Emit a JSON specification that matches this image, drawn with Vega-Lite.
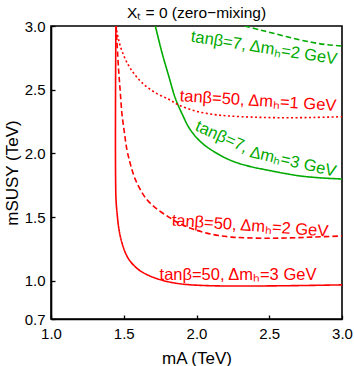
{
  "$schema": "https://vega.github.io/schema/vega-lite/v6.json",
  "width": 291,
  "height": 293,
  "autosize": {"type": "none"},
  "padding": {"left": 51, "top": 26, "right": 12, "bottom": 47},
  "background": "white",
  "config": {
    "font": "Liberation Sans",
    "view": {"stroke": "black", "strokeWidth": 1.6},
    "axis": {
      "domainColor": "black", "domainWidth": 1.6,
      "tickColor": "black", "tickWidth": 1.3, "tickSize": -4,
      "labelColor": "black", "labelFontSize": 15, "labelFont": "Liberation Sans",
      "titleColor": "black", "titleFontSize": 17, "titleFontWeight": "normal", "titleFont": "Liberation Sans",
      "grid": false, "labelFlush": false, "labelOverlap": false
    }
  },
  "title": {
    "text": "Xₜ = 0 (zero−mixing)",
    "fontSize": 15.5, "fontWeight": "normal", "font": "Liberation Sans", "color": "black",
    "anchor": "middle", "frame": "group", "offset": -2
  },
  "datasets": {
    "curves": [
      {"s": "g2", "tb": "7", "dm": "2", "x": 2.33, "y": 3.0},
      {"s": "g2", "tb": "7", "dm": "2", "x": 2.436, "y": 2.969},
      {"s": "g2", "tb": "7", "dm": "2", "x": 2.528, "y": 2.943},
      {"s": "g2", "tb": "7", "dm": "2", "x": 2.665, "y": 2.903},
      {"s": "g2", "tb": "7", "dm": "2", "x": 2.8, "y": 2.87},
      {"s": "g2", "tb": "7", "dm": "2", "x": 2.9, "y": 2.853},
      {"s": "g2", "tb": "7", "dm": "2", "x": 3.0, "y": 2.843},

      {"s": "g3", "tb": "7", "dm": "3", "x": 1.717, "y": 3.0},
      {"s": "g3", "tb": "7", "dm": "3", "x": 1.763, "y": 2.79},
      {"s": "g3", "tb": "7", "dm": "3", "x": 1.809, "y": 2.608},
      {"s": "g3", "tb": "7", "dm": "3", "x": 1.854, "y": 2.435},
      {"s": "g3", "tb": "7", "dm": "3", "x": 1.905, "y": 2.3},
      {"s": "g3", "tb": "7", "dm": "3", "x": 1.955, "y": 2.19},
      {"s": "g3", "tb": "7", "dm": "3", "x": 2.034, "y": 2.085},
      {"s": "g3", "tb": "7", "dm": "3", "x": 2.148, "y": 1.995},
      {"s": "g3", "tb": "7", "dm": "3", "x": 2.253, "y": 1.937},
      {"s": "g3", "tb": "7", "dm": "3", "x": 2.365, "y": 1.898},
      {"s": "g3", "tb": "7", "dm": "3", "x": 2.482, "y": 1.87},
      {"s": "g3", "tb": "7", "dm": "3", "x": 2.6, "y": 1.844},
      {"s": "g3", "tb": "7", "dm": "3", "x": 2.711, "y": 1.823},
      {"s": "g3", "tb": "7", "dm": "3", "x": 2.85, "y": 1.808},
      {"s": "g3", "tb": "7", "dm": "3", "x": 3.0, "y": 1.799},

      {"s": "r1", "tb": "50", "dm": "1", "x": 1.448, "y": 3.0},
      {"s": "r1", "tb": "50", "dm": "1", "x": 1.452, "y": 2.961},
      {"s": "r1", "tb": "50", "dm": "1", "x": 1.463, "y": 2.9},
      {"s": "r1", "tb": "50", "dm": "1", "x": 1.476, "y": 2.843},
      {"s": "r1", "tb": "50", "dm": "1", "x": 1.511, "y": 2.739},
      {"s": "r1", "tb": "50", "dm": "1", "x": 1.557, "y": 2.647},
      {"s": "r1", "tb": "50", "dm": "1", "x": 1.625, "y": 2.555},
      {"s": "r1", "tb": "50", "dm": "1", "x": 1.717, "y": 2.476},
      {"s": "r1", "tb": "50", "dm": "1", "x": 1.809, "y": 2.425},
      {"s": "r1", "tb": "50", "dm": "1", "x": 1.878, "y": 2.38},
      {"s": "r1", "tb": "50", "dm": "1", "x": 1.992, "y": 2.333},
      {"s": "r1", "tb": "50", "dm": "1", "x": 2.107, "y": 2.307},
      {"s": "r1", "tb": "50", "dm": "1", "x": 2.221, "y": 2.294},
      {"s": "r1", "tb": "50", "dm": "1", "x": 2.4, "y": 2.284},
      {"s": "r1", "tb": "50", "dm": "1", "x": 2.6, "y": 2.28},
      {"s": "r1", "tb": "50", "dm": "1", "x": 2.8, "y": 2.282},
      {"s": "r1", "tb": "50", "dm": "1", "x": 3.0, "y": 2.288},

      {"s": "r2", "tb": "50", "dm": "2", "x": 1.447, "y": 3.0},
      {"s": "r2", "tb": "50", "dm": "2", "x": 1.452, "y": 2.9},
      {"s": "r2", "tb": "50", "dm": "2", "x": 1.457, "y": 2.8},
      {"s": "r2", "tb": "50", "dm": "2", "x": 1.465, "y": 2.65},
      {"s": "r2", "tb": "50", "dm": "2", "x": 1.475, "y": 2.5},
      {"s": "r2", "tb": "50", "dm": "2", "x": 1.488, "y": 2.307},
      {"s": "r2", "tb": "50", "dm": "2", "x": 1.505, "y": 2.16},
      {"s": "r2", "tb": "50", "dm": "2", "x": 1.522, "y": 2.027},
      {"s": "r2", "tb": "50", "dm": "2", "x": 1.54, "y": 1.94},
      {"s": "r2", "tb": "50", "dm": "2", "x": 1.557, "y": 1.87},
      {"s": "r2", "tb": "50", "dm": "2", "x": 1.578, "y": 1.8},
      {"s": "r2", "tb": "50", "dm": "2", "x": 1.603, "y": 1.739},
      {"s": "r2", "tb": "50", "dm": "2", "x": 1.63, "y": 1.684},
      {"s": "r2", "tb": "50", "dm": "2", "x": 1.66, "y": 1.636},
      {"s": "r2", "tb": "50", "dm": "2", "x": 1.7, "y": 1.59},
      {"s": "r2", "tb": "50", "dm": "2", "x": 1.74, "y": 1.553},
      {"s": "r2", "tb": "50", "dm": "2", "x": 1.8, "y": 1.507},
      {"s": "r2", "tb": "50", "dm": "2", "x": 1.854, "y": 1.467},
      {"s": "r2", "tb": "50", "dm": "2", "x": 1.92, "y": 1.43},
      {"s": "r2", "tb": "50", "dm": "2", "x": 1.992, "y": 1.4},
      {"s": "r2", "tb": "50", "dm": "2", "x": 2.07, "y": 1.374},
      {"s": "r2", "tb": "50", "dm": "2", "x": 2.153, "y": 1.355},
      {"s": "r2", "tb": "50", "dm": "2", "x": 2.244, "y": 1.343},
      {"s": "r2", "tb": "50", "dm": "2", "x": 2.35, "y": 1.337},
      {"s": "r2", "tb": "50", "dm": "2", "x": 2.5, "y": 1.334},
      {"s": "r2", "tb": "50", "dm": "2", "x": 2.65, "y": 1.337},
      {"s": "r2", "tb": "50", "dm": "2", "x": 2.8, "y": 1.343},
      {"s": "r2", "tb": "50", "dm": "2", "x": 3.0, "y": 1.352},

      {"s": "r3", "tb": "50", "dm": "3", "x": 1.446, "y": 3.0},
      {"s": "r3", "tb": "50", "dm": "3", "x": 1.444, "y": 2.6},
      {"s": "r3", "tb": "50", "dm": "3", "x": 1.443, "y": 2.2},
      {"s": "r3", "tb": "50", "dm": "3", "x": 1.443, "y": 2.0},
      {"s": "r3", "tb": "50", "dm": "3", "x": 1.444, "y": 1.8},
      {"s": "r3", "tb": "50", "dm": "3", "x": 1.447, "y": 1.634},
      {"s": "r3", "tb": "50", "dm": "3", "x": 1.455, "y": 1.52},
      {"s": "r3", "tb": "50", "dm": "3", "x": 1.465, "y": 1.42},
      {"s": "r3", "tb": "50", "dm": "3", "x": 1.478, "y": 1.34},
      {"s": "r3", "tb": "50", "dm": "3", "x": 1.495, "y": 1.27},
      {"s": "r3", "tb": "50", "dm": "3", "x": 1.515, "y": 1.21},
      {"s": "r3", "tb": "50", "dm": "3", "x": 1.54, "y": 1.16},
      {"s": "r3", "tb": "50", "dm": "3", "x": 1.57, "y": 1.12},
      {"s": "r3", "tb": "50", "dm": "3", "x": 1.61, "y": 1.08},
      {"s": "r3", "tb": "50", "dm": "3", "x": 1.66, "y": 1.048},
      {"s": "r3", "tb": "50", "dm": "3", "x": 1.72, "y": 1.02},
      {"s": "r3", "tb": "50", "dm": "3", "x": 1.795, "y": 0.995},
      {"s": "r3", "tb": "50", "dm": "3", "x": 1.87, "y": 0.979},
      {"s": "r3", "tb": "50", "dm": "3", "x": 1.95, "y": 0.969},
      {"s": "r3", "tb": "50", "dm": "3", "x": 2.05, "y": 0.963},
      {"s": "r3", "tb": "50", "dm": "3", "x": 2.2, "y": 0.959},
      {"s": "r3", "tb": "50", "dm": "3", "x": 2.4, "y": 0.959},
      {"s": "r3", "tb": "50", "dm": "3", "x": 2.6, "y": 0.961},
      {"s": "r3", "tb": "50", "dm": "3", "x": 2.8, "y": 0.964},
      {"s": "r3", "tb": "50", "dm": "3", "x": 3.0, "y": 0.968}
    ],
    "labels": [
      {"id": "A", "label": "tanβ=7, Δmₕ=2 GeV", "x": 2.464, "y": 2.827},
      {"id": "B", "label": "tanβ=50, Δmₕ=1 GeV", "x": 2.423, "y": 2.411},
      {"id": "C1", "label": "tanβ=7,", "x": 2.174, "y": 2.13},
      {"id": "C2", "label": "Δmₕ=3 GeV", "x": 2.663, "y": 1.933},
      {"id": "D", "label": "tanβ=50, Δmₕ=2 GeV", "x": 2.368, "y": 1.43},
      {"id": "E", "label": "tanβ=50, Δmₕ=3 GeV", "x": 2.285, "y": 1.049}
    ]
  },
  "layer": [
    {
      "data": {"name": "curves"},
      "mark": {"type": "line", "strokeWidth": 1.6, "clip": true, "interpolate": "catmull-rom"},
      "encoding": {
        "x": {"field": "x", "type": "quantitative",
              "scale": {"domain": [1, 3], "nice": false, "zero": false},
              "axis": {"values": [1, 1.5, 2, 2.5, 3], "format": ".1f", "title": "mA (TeV)", "labelPadding": 11, "titlePadding": 9}},
        "y": {"field": "y", "type": "quantitative",
              "scale": {"domain": [0.7, 3], "nice": false, "zero": false},
              "axis": {"values": [0.7, 1, 1.5, 2, 2.5, 3], "format": ".1f", "title": "mSUSY (TeV)", "labelPadding": 10, "titlePadding": 3}},
        "detail": {"field": "s"},
        "color": {"field": "tb", "type": "nominal", "scale": {"domain": ["7", "50"], "range": ["#00AA00", "#FF0000"]}, "legend": null},
        "strokeDash": {"field": "dm", "type": "nominal", "scale": {"domain": ["1", "2", "3"], "range": [[2, 2.5], [5.5, 3], [1, 0]]}, "legend": null},
        "order": {"value": null}
      }
    },
    {
      "data": {"name": "labels"},
      "transform": [{"filter": "datum.id === 'A'"}],
      "mark": {"type": "text", "angle": 9, "fontSize": 16.5, "color": "#00AA00", "baseline": "middle", "align": "center"},
      "encoding": {"x": {"field": "x", "type": "quantitative"}, "y": {"field": "y", "type": "quantitative"}, "text": {"field": "label"}}
    },
    {
      "data": {"name": "labels"},
      "transform": [{"filter": "datum.id === 'B'"}],
      "mark": {"type": "text", "angle": 3.5, "fontSize": 16.5, "color": "#FF0000", "baseline": "middle", "align": "center"},
      "encoding": {"x": {"field": "x", "type": "quantitative"}, "y": {"field": "y", "type": "quantitative"}, "text": {"field": "label"}}
    },
    {
      "data": {"name": "labels"},
      "transform": [{"filter": "datum.id === 'C1'"}],
      "mark": {"type": "text", "angle": 24, "fontSize": 16.5, "color": "#00AA00", "baseline": "middle", "align": "center"},
      "encoding": {"x": {"field": "x", "type": "quantitative"}, "y": {"field": "y", "type": "quantitative"}, "text": {"field": "label"}}
    },
    {
      "data": {"name": "labels"},
      "transform": [{"filter": "datum.id === 'C2'"}],
      "mark": {"type": "text", "angle": 13, "fontSize": 16.5, "color": "#00AA00", "baseline": "middle", "align": "center"},
      "encoding": {"x": {"field": "x", "type": "quantitative"}, "y": {"field": "y", "type": "quantitative"}, "text": {"field": "label"}}
    },
    {
      "data": {"name": "labels"},
      "transform": [{"filter": "datum.id === 'D'"}],
      "mark": {"type": "text", "angle": 4, "fontSize": 16.5, "color": "#FF0000", "baseline": "middle", "align": "center"},
      "encoding": {"x": {"field": "x", "type": "quantitative"}, "y": {"field": "y", "type": "quantitative"}, "text": {"field": "label"}}
    },
    {
      "data": {"name": "labels"},
      "transform": [{"filter": "datum.id === 'E'"}],
      "mark": {"type": "text", "angle": 0, "fontSize": 16.5, "color": "#FF0000", "baseline": "middle", "align": "center"},
      "encoding": {"x": {"field": "x", "type": "quantitative"}, "y": {"field": "y", "type": "quantitative"}, "text": {"field": "label"}}
    }
  ]
}
